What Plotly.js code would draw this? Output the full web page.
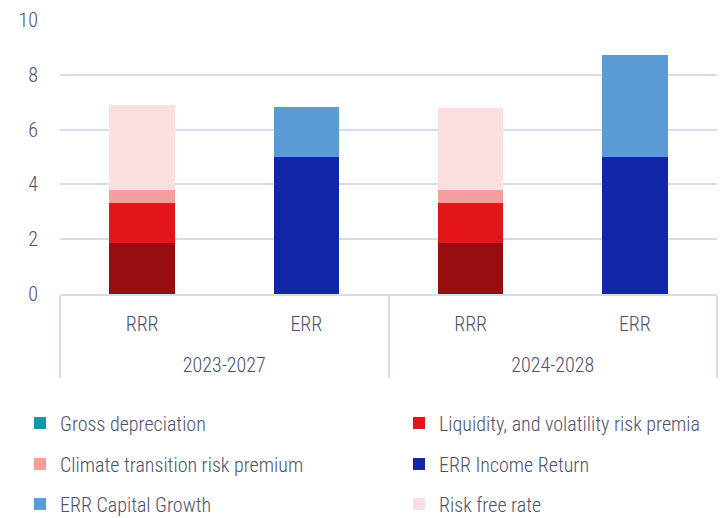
<!DOCTYPE html>
<html>
<head>
<meta charset="utf-8">
<script src="https://cdn.plot.ly/plotly-3.0.1.min.js"></script>
<style>html,body{margin:0;padding:0;background:#fff;}#chart{width:723px;height:518px;}</style>
</head>
<body>
<div id="chart"></div>
<script>
// ---- data ----
var periods = ["2023-2027", "2023-2027", "2024-2028", "2024-2028"];
var measures = ["RRR", "ERR", "RRR", "ERR"];
var grossDepreciation = [1.86, null, 1.86, null];
var liquidityPremia = [1.46, null, 1.46, null];
var climatePremium = [0.48, null, 0.48, null];
var errIncomeReturn = [null, 5.0, null, 5.0];
var errCapitalGrowth = [null, 1.82, null, 3.72];
var riskFreeRate = [3.1, null, 2.99, null];
var yTicks = [0, 2, 4, 6, 8, 10];

var FONT = "'Roboto Condensed', 'DejaVu Sans Condensed', sans-serif";
var TXT = "#4b5170";
var GRID = "#d5dcf0";
// second-level labels sit one line lower, as in the reference
var x = [periods.map(function (p) { return "<br>" + p; }), measures];

function bar(name, y, color, legend, showlegend) {
  return {type: "bar", name: name, x: x, y: y, width: 0.4,
    marker: {color: color, line: {width: 0}},
    legend: legend, showlegend: showlegend !== false,
    hoverinfo: "name+y"};
}

var data = [
  bar("Gross depreciation", grossDepreciation, "#980d10", "legend", false),
  {type: "bar", name: "Gross depreciation", x: [[x[0][0]], [x[1][0]]], y: [null],
   marker: {color: "#1496a8"}, legend: "legend", showlegend: true, hoverinfo: "skip"},
  bar("Liquidity, and volatility risk premia", liquidityPremia, "#e41518", "legend2"),
  bar("Climate transition risk premium", climatePremium, "#f59e9d", "legend3"),
  bar("ERR Income Return", errIncomeReturn, "#1226a8", "legend4"),
  bar("ERR Capital Growth", errCapitalGrowth, "#5b9bd5", "legend5"),
  bar("Risk free rate", riskFreeRate, "#fbdfe0", "legend6")
];

function legendAt(xPix, yPix) {
  return {
    orientation: "h", xref: "container", yref: "container",
    x: xPix / 723, xanchor: "left", y: 1 - yPix / 518, yanchor: "middle",
    traceorder: "normal", itemwidth: 30,
    font: {family: FONT, size: 20, color: TXT, weight: 300},
    bgcolor: "rgba(0,0,0,0)"
  };
}

var layout = {
  width: 723, height: 518,
  margin: {l: 60, r: 6, t: 20, b: 224},
  paper_bgcolor: "#ffffff", plot_bgcolor: "#ffffff",
  barmode: "stack",
  font: {family: FONT, size: 20, color: TXT, weight: 300},
  xaxis: {
    type: "multicategory",
    showgrid: false,
    showline: true, linecolor: GRID, linewidth: 2,
    showdividers: true, dividercolor: GRID, dividerwidth: 2,
    ticks: "", tickfont: {family: FONT, size: 20, color: TXT, weight: 300},
    ticklabelstandoff: 11,
    fixedrange: true
  },
  yaxis: {
    range: [0, 10], tickvals: yTicks,
    showgrid: true, gridcolor: GRID, gridwidth: 2,
    zeroline: false, showline: false,
    ticks: "", tickfont: {family: FONT, size: 20, color: TXT, weight: 300},
    ticklabelstandoff: 21,
    fixedrange: true
  },
  legend: legendAt(20, 423),
  legend2: legendAt(399, 423),
  legend3: legendAt(20, 464),
  legend4: legendAt(399, 464),
  legend5: legendAt(20, 504),
  legend6: legendAt(399, 504),
  showlegend: true
};

Plotly.newPlot("chart", data, layout, {displayModeBar: false, staticPlot: true});
</script>
</body>
</html>
